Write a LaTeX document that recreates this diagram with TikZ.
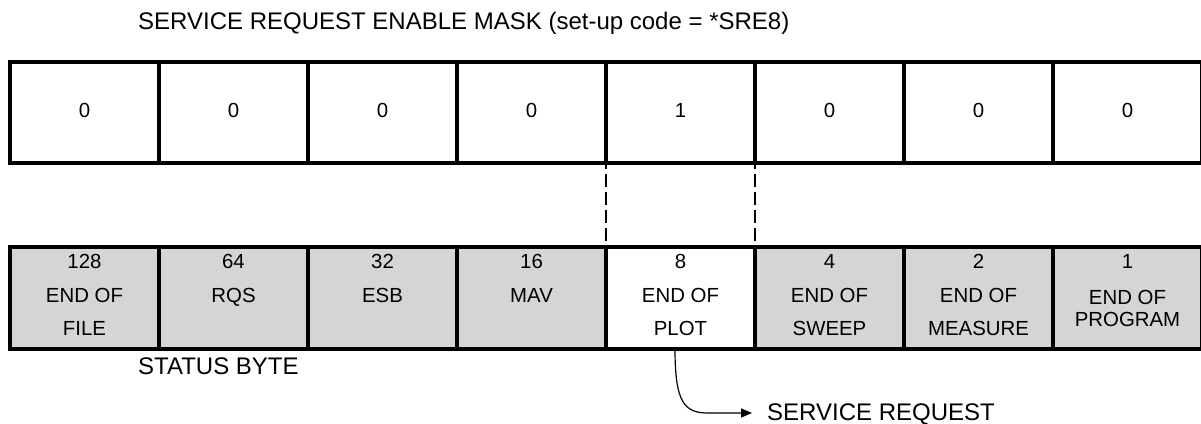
\documentclass[tikz,border=0pt]{standalone}
\usepackage{fontspec}
\setmainfont{Liberation Sans}
\usetikzlibrary{arrows.meta}
\definecolor{cellgray}{RGB}{213,213,213}
\begin{document}
\begin{tikzpicture}[x=1pt,y=-1pt,
  cellline/.style={line width=3.6pt},
  topcell/.style={draw, cellline, minimum width=149pt, minimum height=101pt, inner sep=0pt, outer sep=0pt},
  botfill/.style={minimum width=149pt, minimum height=102pt, inner sep=0pt, outer sep=0pt},
  boxtxt/.style={font=\fontsize{20.4}{24}\selectfont, inner sep=0pt, anchor=base},
  bigtxt/.style={font=\fontsize{24}{28}\selectfont, inner sep=0pt, anchor=base west},
  dashline/.style={line width=2.7pt, dash pattern=on 12.7pt off 5.3pt, dash phase=7pt},
  conn/.style={line width=1.2pt, -{Triangle[length=11pt,width=9pt]}}
]
\useasboundingbox (0,0) rectangle (1201,423);

% title
\node[bigtxt] (title) at (138,29.5) {SERVICE REQUEST ENABLE MASK (set-up code = *SRE8)};

% top row: enable mask
\foreach \i/\v in {1/0,2/0,3/0,4/0,5/1,6/0,7/0,8/0}{
  \node[topcell] (t\i) at ({84.5+149*(\i-1)},112.5) {};
  \node[boxtxt] (tv\i) at ({84.5+149*(\i-1)},117) {\v};
}

% bottom row: status byte
\foreach \i/\f in {1/cellgray,2/cellgray,3/cellgray,4/cellgray,5/white,6/cellgray,7/cellgray,8/cellgray}{
  \node[botfill, fill=\f] (b\i) at ({84.5+149*(\i-1)},298) {};
}
\foreach \i in {1,...,8}{
  \draw[cellline] (b\i.north west) rectangle (b\i.south east);
}

% bit weights
\foreach \i/\w in {1/128,2/64,3/32,4/16,5/8,6/4,7/2,8/1}{
  \node[boxtxt] (w\i) at ({84.5+149*(\i-1)},268.7) {\w};
}
% names, first line
\foreach \i/\n in {1/END OF,2/RQS,3/ESB,4/MAV,5/END OF,6/END OF,7/END OF}{
  \node[boxtxt] (na\i) at ({84.5+149*(\i-1)},302) {\n};
}
% names, second line
\foreach \i/\n in {1/FILE,5/PLOT,6/SWEEP,7/MEASURE}{
  \node[boxtxt] (nb\i) at ({84.5+149*(\i-1)},335.3) {\n};
}
\node[boxtxt] (na8) at (1127.5,304) {END OF};
\node[boxtxt] (nb8) at (1127.5,326) {PROGRAM};

% status byte label
\node[bigtxt] (sb) at (138,374) {STATUS BYTE};

% dashed links
\draw[dashline] (t5.south west) -- (b5.north west);
\draw[dashline] (t5.south east) -- (b5.north east);

% service request
\node[bigtxt] (sr) at (767,420) {SERVICE REQUEST};
\coordinate (cs) at ([xshift=-5.5pt]b5.south);
\coordinate (srq) at (752,413);
\draw[conn] (cs) .. controls (675,402) and (684,413) .. (708,413) -- (srq);
\end{tikzpicture}
\end{document}
